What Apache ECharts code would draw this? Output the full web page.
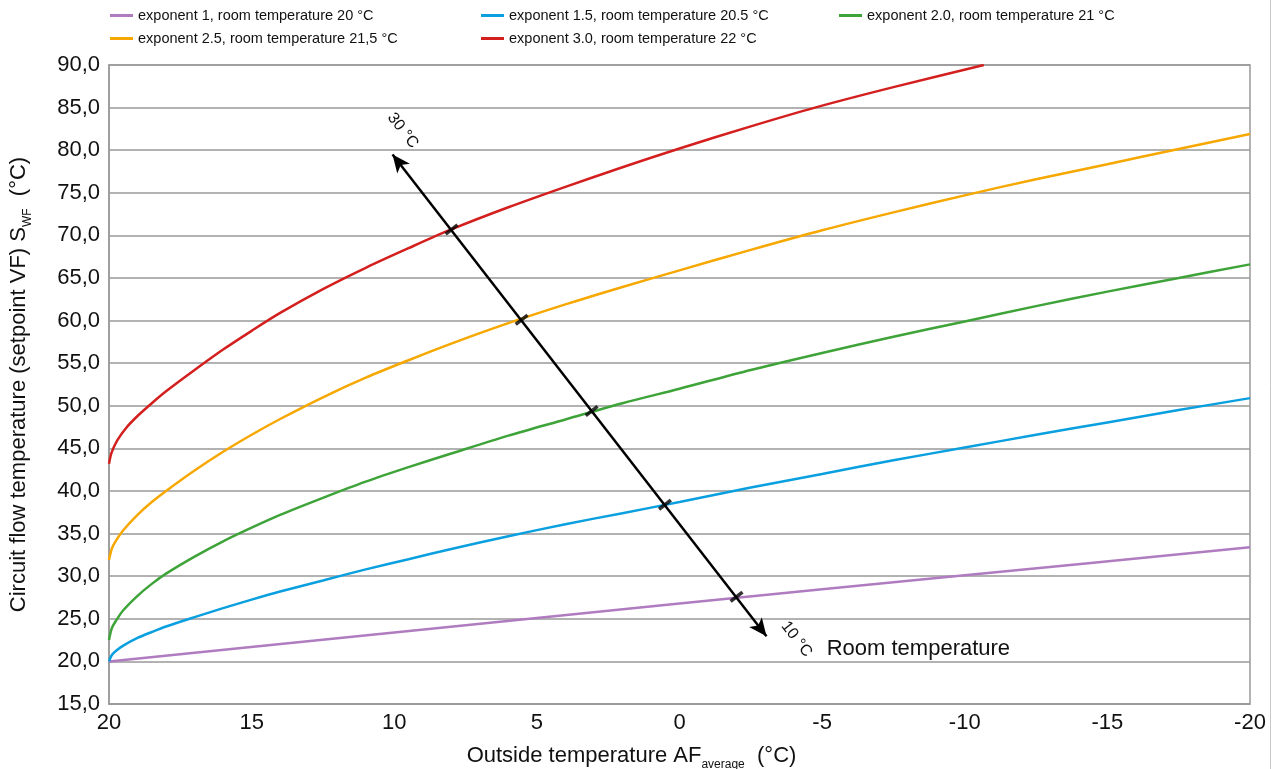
<!DOCTYPE html>
<html>
<head>
<meta charset="utf-8">
<script src="https://cdn.jsdelivr.net/npm/echarts@6/dist/echarts.min.js"></script>
<style>
html, body { margin: 0; padding: 0; background: #fff; }
#chart { width: 1275px; height: 769px; }
</style>
</head>
<body>
<div id="chart"></div>
<script>
// Heating curves: flow temperature setpoint vs. averaged outside temperature
const seriesNames = [
  'exponent 1, room temperature 20 °C',
  'exponent 1.5, room temperature 20.5 °C',
  'exponent 2.0, room temperature 21 °C',
  'exponent 2.5, room temperature 21,5 °C',
  'exponent 3.0, room temperature 22 °C'
];
const seriesColors = ['#b07cc0', '#0aa0e0', '#3ea338', '#f7a800', '#d3201f'];

const xTicks = [20, 15, 10, 5, 0, -5, -10, -15, -20];
const yTicks = [15, 20, 25, 30, 35, 40, 45, 50, 55, 60, 65, 70, 75, 80, 85, 90];

const exp10X = [20, 10, 0, -10, -20];
const exp10Y = [20.0, 23.4, 26.8, 30.1, 33.4];

const exp15X = [20, 19.9, 19.75, 19.5, 19, 18.5, 18, 17, 16, 15, 14, 12.5, 11, 9.5, 8, 6, 4, 2, 0, -2.5, -5, -7.5, -10, -12.5, -15, -17.5, -20];
const exp15Y = [20.0, 20.75, 21.25, 21.85, 22.75, 23.45, 24.1, 25.2, 26.25, 27.25, 28.2, 29.5, 30.8, 32.0, 33.2, 34.7, 36.1, 37.4, 38.7, 40.4, 42.0, 43.6, 45.1, 46.6, 48.05, 49.5, 50.9];

const exp20X = [20, 19.9, 19.75, 19.5, 19, 18.5, 18, 17, 16, 15, 14, 12.5, 11, 9.5, 8, 6, 4, 2, 0, -2.5, -5, -7.5, -10, -12.5, -15, -17.5, -20];
const exp20Y = [22.5, 23.9, 24.8, 26.0, 27.7, 29.1, 30.3, 32.3, 34.1, 35.7, 37.2, 39.2, 41.1, 42.8, 44.4, 46.5, 48.4, 50.3, 52.0, 54.2, 56.2, 58.1, 59.9, 61.7, 63.4, 65.0, 66.6];

const exp25X = [20, 19.9, 19.75, 19.5, 19, 18.5, 18, 17, 16, 15, 14, 12.5, 11, 9.5, 8, 6, 4, 2, 0, -2.5, -5, -7.5, -10, -12.5, -15, -17.5, -20];
const exp25Y = [31.9, 33.25, 34.2, 35.4, 37.2, 38.7, 40.0, 42.4, 44.6, 46.6, 48.45, 51.0, 53.3, 55.35, 57.3, 59.7, 61.9, 63.95, 65.9, 68.3, 70.6, 72.7, 74.7, 76.6, 78.35, 80.15, 81.9];

const exp30X = [20, 19.93, 19.85, 19.7, 19.4, 19, 18.5, 18, 17, 16, 15, 14, 12.5, 11, 9.5, 8, 6, 4, 2, 0, -2.5, -4.75, -7.5, -10.67];
const exp30Y = [43.2, 44.3, 45.0, 46.0, 47.4, 48.8, 50.3, 51.7, 54.2, 56.6, 58.8, 60.9, 63.7, 66.2, 68.5, 70.7, 73.3, 75.7, 78.0, 80.2, 82.8, 85.0, 87.4, 90.0];

// Room temperature scale: arrow from 30 °C (top) to 10 °C (bottom), with ticks where it meets each curve
const roomArrowFrom = [10.06, 79.5];
const roomArrowTo = [-3.05, 22.95];
const roomTickX = [7.99, 5.535, 3.08, 0.51, -2.0];
const roomTickY = [70.7, 60.1, 49.4, 38.4, 27.6];

const curveX = [exp10X, exp15X, exp20X, exp25X, exp30X];
const curveY = [exp10Y, exp15Y, exp20Y, exp25Y, exp30Y];

const FONT = '"Liberation Sans", Arial, sans-serif';

const chart = echarts.init(document.getElementById('chart'), null, { renderer: 'canvas' });

const curveSeries = seriesNames.map((name, i) => ({
  name: name,
  type: 'line',
  data: curveX[i].map((x, k) => [x, curveY[i][k]]),
  showSymbol: false,
  smooth: 0.3,
  lineStyle: { color: seriesColors[i], width: 2.5 },
  itemStyle: { color: seriesColors[i] },
  z: 3
}));

const legendCommon = {
  orient: 'vertical',
  icon: 'rect',
  itemWidth: 23,
  itemHeight: 3,
  itemGap: 8,
  selectedMode: false,
  textStyle: { fontFamily: FONT, fontSize: 14.5, color: '#111', lineHeight: 15 },
  top: 3
};

const option = {
  animation: false,
  backgroundColor: '#fff',
  grid: {
    left: 109, right: 25, top: 65, bottom: 65,
    containLabel: false,
    outerBoundsMode: 'none',
    show: true, borderColor: '#999', borderWidth: 1.5
  },
  legend: [
    Object.assign({}, legendCommon, { left: 105, data: [seriesNames[0], seriesNames[3]] }),
    Object.assign({}, legendCommon, { left: 476, data: [seriesNames[1], seriesNames[4]] }),
    Object.assign({}, legendCommon, { left: 834, data: [seriesNames[2]] })
  ],
  xAxis: {
    type: 'value',
    min: xTicks[xTicks.length - 1],
    max: xTicks[0],
    interval: 5,
    inverse: true,
    axisLine: { show: true, onZero: false, lineStyle: { color: '#999', width: 1.5 } },
    axisTick: { show: false },
    splitLine: { show: false },
    axisLabel: { fontFamily: FONT, fontSize: 22, color: '#111', margin: 8 },
    name: 'Outside temperature AF{sub|average}  (°C)',
    nameLocation: 'middle',
    nameGap: 37,
    nameTextStyle: {
      fontFamily: FONT, fontSize: 22, color: '#111', lineHeight: 22,
      padding: [0, 96, 0, 0],
      rich: { sub: { fontFamily: FONT, fontSize: 12, color: '#111', verticalAlign: 'bottom', lineHeight: 30 } }
    }
  },
  yAxis: {
    type: 'value',
    min: yTicks[0],
    max: yTicks[yTicks.length - 1],
    interval: 5,
    axisLine: { show: true, onZero: false, lineStyle: { color: '#999', width: 1.5 } },
    axisTick: { show: false },
    splitLine: { show: true, lineStyle: { color: '#999', width: 1.5 } },
    axisLabel: {
      fontFamily: FONT, fontSize: 22, color: '#111', margin: 9,
      formatter: v => v.toFixed(1).replace('.', ',')
    },
    name: 'Circuit flow temperature (setpoint VF) S{sub|WF}  (°C)',
    nameLocation: 'middle',
    nameGap: 75,
    nameTextStyle: {
      fontFamily: FONT, fontSize: 22, color: '#111', lineHeight: 22,
      rich: { sub: { fontFamily: FONT, fontSize: 12, color: '#111', verticalAlign: 'bottom', lineHeight: 30 } }
    }
  },
  series: curveSeries.concat([{
    name: 'room temperature scale',
    type: 'scatter',
    data: roomTickX.map((x, k) => [x, roomTickY[k]]),
    symbol: 'rect',
    symbolSize: [15, 3.5],
    symbolRotate: 38,
    itemStyle: { color: '#000' },
    silent: true,
    z: 6,
    markLine: {
      silent: true,
      symbol: ['arrow', 'arrow'],
      symbolSize: [12, 18],
      lineStyle: { color: '#000', width: 2.5, type: 'solid' },
      label: { show: false },
      emphasis: { disabled: true },
      data: [[{ coord: roomArrowFrom }, { coord: roomArrowTo }]]
    }
  }])
};

chart.setOption(option);

// Annotations placed in data space next to the arrow
const p30 = chart.convertToPixel({ gridIndex: 0 }, [9.70, 82.3]);
const p10 = chart.convertToPixel({ gridIndex: 0 }, [-4.10, 22.6]);
const pRoom = chart.convertToPixel({ gridIndex: 0 }, [-5.16, 21.5]);
const arrowAngle = -52.2 * Math.PI / 180;

chart.setOption({
  graphic: [
    {
      type: 'text', x: p30[0], y: p30[1], rotation: arrowAngle,
      style: { text: '30 °C', font: '16px ' + FONT, fill: '#111', align: 'center', verticalAlign: 'middle' }
    },
    {
      type: 'text', x: p10[0], y: p10[1], rotation: arrowAngle,
      style: { text: '10 °C', font: '16px ' + FONT, fill: '#111', align: 'center', verticalAlign: 'middle' }
    },
    {
      type: 'text', x: pRoom[0], y: pRoom[1],
      style: { text: 'Room temperature', font: '22px ' + FONT, fill: '#111', align: 'left', verticalAlign: 'middle' }
    },
    {
      type: 'line', shape: { x1: 1270.5, y1: 0, x2: 1270.5, y2: 769 },
      style: { stroke: '#c8c8c8', lineWidth: 1 }
    }
  ]
});
</script>
</body>
</html>
